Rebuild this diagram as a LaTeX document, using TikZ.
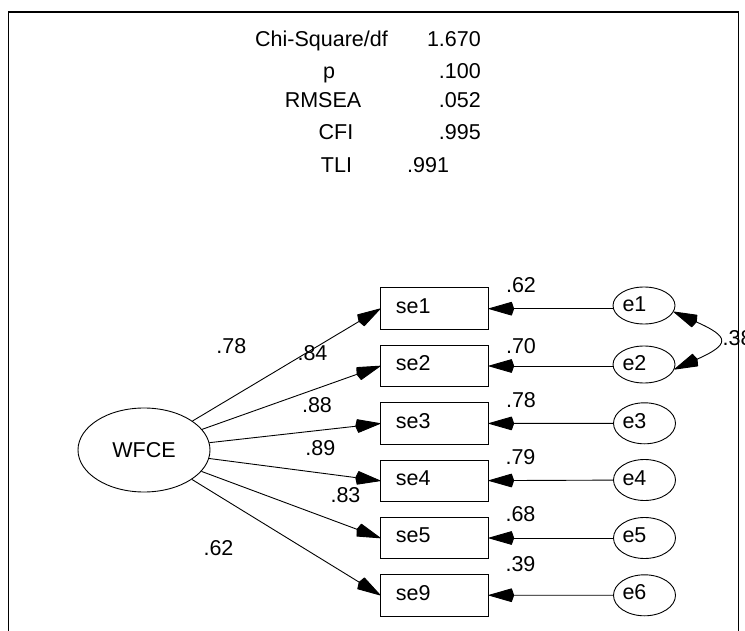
\documentclass[tikz,border=0pt]{standalone}
\usepackage{fontspec}
\setmainfont{Liberation Sans}
\usetikzlibrary{arrows.meta,shapes.geometric}
\begin{document}
\begin{tikzpicture}[x=1pt,y=-1pt,
  every node/.style={font=\fontsize{21.5}{24}\selectfont},
  txt/.style={inner sep=0pt},
  obsbox/.style={draw,line width=0.9pt,text width=77.6pt,align=left,inner xsep=15pt,inner ysep=0pt,
    minimum height=41.7pt,text height=13pt,text depth=3.4pt},
  evar/.style={ellipse,draw,line width=0.9pt,minimum width=62pt,minimum height=41pt,inner sep=0pt},
  latent/.style={ellipse,draw,line width=0.9pt,minimum width=132pt,minimum height=84pt,inner sep=0pt},
  tiphead/.tip={Stealth[length=24pt,width=13.5pt,inset=-2.5pt,round=false]},
  load/.style={draw,line width=0.9pt,-tiphead},
  cov/.style={draw,line width=0.9pt,tiphead-tiphead},
  frame/.style={draw,line width=1.6pt}
]
\useasboundingbox (0,0) rectangle (745,631);
\begin{scope}
\clip (0,0) rectangle (745,631);
\draw[frame] (8.5,650) -- (8.5,12) -- (738.5,12) -- (738.5,650);

% fit statistics
\node[txt,anchor=base] (chi) at (321.5,47) {Chi-Square/df};
\node[txt,anchor=base east] (chiv) at (481,47) {1.670};
\node[txt,anchor=base] (p) at (329,78.5) {p};
\node[txt,anchor=base east] (pv) at (481,78.5) {.100};
\node[txt,anchor=base] (rmsea) at (323,108) {RMSEA};
\node[txt,anchor=base east] (rmseav) at (481,108) {.052};
\node[txt,anchor=base] (cfi) at (336,140) {CFI};
\node[txt,anchor=base east] (cfiv) at (481,140) {.995};
\node[txt,anchor=base] (tli) at (336.5,172.5) {TLI};
\node[txt,anchor=base west] (tliv) at (407,172.5) {.991};

% latent
\node[latent] (F) at (144,450) {WFCE};

% observed
\node[obsbox] (se1) at (434.6,308.7) {se1};
\node[obsbox] (se2) at (434.6,366) {se2};
\node[obsbox] (se3) at (434.6,423.5) {se3};
\node[obsbox] (se4) at (434.6,480.8) {se4};
\node[obsbox] (se5) at (434.6,538) {se5};
\node[obsbox] (se9) at (434.6,595.2) {se9};

% errors
\node[evar,minimum height=37pt] (e1) at (644,305.5) {};
\node[evar,minimum height=37pt] (e2) at (644,364.5) {};
\node[evar] (e3) at (644.5,423.3) {};
\node[evar] (e4) at (644.5,480) {};
\node[evar] (e5) at (644.5,538) {};
\node[evar] (e6) at (644.5,595.3) {};
\node[txt,anchor=base west] (e1t) at (622.3,311.5) {e1};
\node[txt,anchor=base west] (e2t) at (622.3,370.3) {e2};
\node[txt,anchor=base west] (e3t) at (622.3,428.5) {e3};
\node[txt,anchor=base west] (e4t) at (622.3,485.2) {e4};
\node[txt,anchor=base west] (e5t) at (622.3,542.5) {e5};
\node[txt,anchor=base west] (e6t) at (622.3,599.7) {e6};

% loadings
\draw[load] (F) -- (se1.west);
\draw[load] (F) -- (se2.west);
\draw[load] (F) -- (se3.west);
\draw[load] (F) -- (se4.west);
\draw[load] (F) -- (se5.west);
\draw[load] (F) -- (se9.west);

% error paths
\draw[load] (e1.west |- se1.east) -- (se1.east);
\draw[load] (e2.west |- se2.east) -- (se2.east);
\draw[load] (e3) -- (se3);
\draw[load] (e4) -- (se4);
\draw[load] (e5) -- (se5);
\draw[load] (e6) -- (se9);

% covariance
\draw[cov] (e1.-12) .. controls +(56,25) and +(56,-25) .. (e2.-9);
\node[txt,anchor=base west] (c12) at (722.5,345) {.38};

% loading labels
\node[txt,anchor=base] (l1) at (231.3,354) {.78};
\node[txt,anchor=base] (l2) at (312.5,360) {.84};
\node[txt,anchor=base] (l3) at (317,412.5) {.88};
\node[txt,anchor=base] (l4) at (320.3,455.5) {.89};
\node[txt,anchor=base] (l5) at (345.5,502.5) {.83};
\node[txt,anchor=base] (l6) at (218.5,555) {.62};

% squared multiple correlations
\node[txt,anchor=base] (r1) at (521,292.5) {.62};
\node[txt,anchor=base] (r2) at (521,353.3) {.70};
\node[txt,anchor=base] (r3) at (521,407) {.78};
\node[txt,anchor=base] (r4) at (520.5,464) {.79};
\node[txt,anchor=base] (r5) at (520.5,521.5) {.68};
\node[txt,anchor=base] (r6) at (520.5,571) {.39};
\end{scope}
\end{tikzpicture}
\end{document}
